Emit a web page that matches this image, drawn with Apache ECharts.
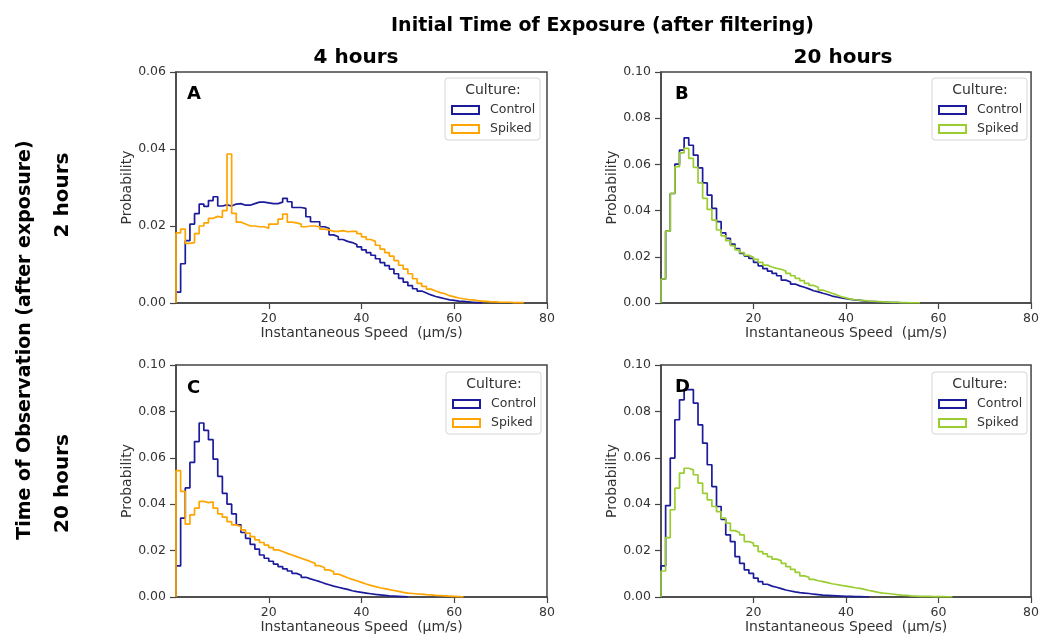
<!DOCTYPE html>
<html>
<head>
<meta charset="utf-8">
<script src="https://cdn.jsdelivr.net/npm/echarts@6/dist/echarts.min.js"></script>
<style>html,body{margin:0;padding:0;background:#fff}#c{width:1042px;height:636px}</style>
</head>
<body>
<div id="c"></div>
<script>
// ---- data: probability per 1 µm/s bin, starting at 0 ----
const xTicks = [20, 40, 60, 80];
const yTicksA = ['0.00', '0.02', '0.04', '0.06'];
const yTicksBCD = ['0.00', '0.02', '0.04', '0.06', '0.08', '0.10'];

const controlA = [0.0028, 0.0102, 0.0162, 0.0205, 0.0232, 0.0257, 0.0251, 0.0266, 0.0276, 0.0252,
  0.0255, 0.0252, 0.0257, 0.0258, 0.0254, 0.0254, 0.0258, 0.0262, 0.0262, 0.0260,
  0.0258, 0.0258, 0.0262, 0.0272, 0.0263, 0.0248, 0.0248, 0.0246, 0.0224, 0.0211,
  0.0211, 0.0198, 0.0194, 0.0177, 0.0172, 0.0165, 0.0160, 0.0157, 0.0152, 0.0146,
  0.0138, 0.0131, 0.0124, 0.0115, 0.0105, 0.0097, 0.0088, 0.0076, 0.0064, 0.0054,
  0.0045, 0.0037, 0.0031, 0.0026, 0.0021, 0.0017, 0.0014, 0.0011, 0.0008, 0.0007,
  0.0005, 0.0004, 0.0003, 0.0002, 0.0001, 0.0001];
const spikedA = [0.0182, 0.0192, 0.0155, 0.0157, 0.0180, 0.0200, 0.0208, 0.0220, 0.0225, 0.0222,
  0.0240, 0.0387, 0.0233, 0.0210, 0.0205, 0.0200, 0.0200, 0.0198, 0.0198, 0.0194,
  0.0205, 0.0205, 0.0218, 0.0231, 0.0210, 0.0208, 0.0205, 0.0198, 0.0200, 0.0200,
  0.0198, 0.0192, 0.0190, 0.0186, 0.0186, 0.0188, 0.0185, 0.0186, 0.0186, 0.0180,
  0.0172, 0.0165, 0.0160, 0.0150, 0.0140, 0.0131, 0.0122, 0.0110, 0.0098, 0.0088,
  0.0076, 0.0063, 0.0051, 0.0043, 0.0036, 0.0031, 0.0027, 0.0024, 0.0019, 0.0016,
  0.0013, 0.0011, 0.0009, 0.0008, 0.0006, 0.0005, 0.0004, 0.0003, 0.0003, 0.0002,
  0.0002, 0.0002, 0.0001, 0.0001, 0.0001];

const controlB = [0.0104, 0.0311, 0.0474, 0.0601, 0.0662, 0.0715, 0.0683, 0.0640, 0.0585, 0.0520,
  0.0467, 0.0410, 0.0352, 0.0304, 0.0280, 0.0255, 0.0236, 0.0215, 0.0203, 0.0193,
  0.0176, 0.0161, 0.0149, 0.0138, 0.0128, 0.0118, 0.0099, 0.0091, 0.0082, 0.0074,
  0.0068, 0.0061, 0.0053, 0.0048, 0.0042, 0.0037, 0.0030, 0.0026, 0.0022, 0.0019,
  0.0016, 0.0013, 0.0011, 0.0009, 0.0007, 0.0006, 0.0005, 0.0004, 0.0003, 0.0002,
  0.0002, 0.0001, 0.0001];
const spikedB = [0.0104, 0.0311, 0.0474, 0.0590, 0.0650, 0.0669, 0.0626, 0.0587, 0.0520, 0.0453,
  0.0405, 0.0359, 0.0316, 0.0291, 0.0270, 0.0248, 0.0230, 0.0218, 0.0206, 0.0198,
  0.0189, 0.0176, 0.0164, 0.0156, 0.0150, 0.0146, 0.0138, 0.0128, 0.0118, 0.0107,
  0.0097, 0.0085, 0.0076, 0.0068, 0.0056, 0.0049, 0.0042, 0.0035, 0.0027, 0.0022,
  0.0017, 0.0014, 0.0012, 0.0010, 0.0008, 0.0007, 0.0006, 0.0005, 0.0004, 0.0003,
  0.0003, 0.0002, 0.0002, 0.0001, 0.0001, 0.0001];

const controlC = [0.0134, 0.0340, 0.0470, 0.0580, 0.0670, 0.0750, 0.0718, 0.0678, 0.0594, 0.0520,
  0.0447, 0.0400, 0.0358, 0.0311, 0.0278, 0.0253, 0.0227, 0.0206, 0.0181, 0.0167,
  0.0154, 0.0142, 0.0131, 0.0121, 0.0112, 0.0102, 0.0094, 0.0085, 0.0078, 0.0072,
  0.0066, 0.0059, 0.0053, 0.0047, 0.0042, 0.0037, 0.0033, 0.0027, 0.0023, 0.0020,
  0.0017, 0.0014, 0.0011, 0.0009, 0.0007, 0.0005, 0.0004, 0.0003, 0.0002, 0.0001];
const spikedC = [0.0545, 0.0455, 0.0314, 0.0354, 0.0383, 0.0412, 0.0407, 0.0410, 0.0383, 0.0358,
  0.0344, 0.0325, 0.0311, 0.0304, 0.0289, 0.0275, 0.0260, 0.0246, 0.0235, 0.0224,
  0.0213, 0.0203, 0.0196, 0.0188, 0.0181, 0.0174, 0.0167, 0.0160, 0.0153, 0.0145,
  0.0135, 0.0127, 0.0117, 0.0109, 0.0099, 0.0091, 0.0083, 0.0076, 0.0070, 0.0063,
  0.0056, 0.0050, 0.0045, 0.0040, 0.0036, 0.0032, 0.0028, 0.0024, 0.0020, 0.0017,
  0.0015, 0.0013, 0.0012, 0.0010, 0.0009, 0.0007, 0.0006, 0.0005, 0.0004, 0.0003,
  0.0002, 0.0001];

const controlD = [0.0134, 0.0394, 0.0599, 0.0764, 0.0850, 0.0894, 0.0894, 0.0836, 0.0742, 0.0663,
  0.0570, 0.0476, 0.0390, 0.0335, 0.0268, 0.0239, 0.0174, 0.0145, 0.0117, 0.0102,
  0.0081, 0.0066, 0.0055, 0.0047, 0.0042, 0.0036, 0.0030, 0.0026, 0.0022, 0.0019,
  0.0017, 0.0015, 0.0012, 0.0010, 0.0008, 0.0007, 0.0006, 0.0005, 0.0004, 0.0003,
  0.0003, 0.0002, 0.0002, 0.0001, 0.0001];
const spikedD = [0.0112, 0.0256, 0.0376, 0.0469, 0.0534, 0.0555, 0.0548, 0.0527, 0.0491, 0.0447,
  0.0419, 0.0390, 0.0368, 0.0340, 0.0318, 0.0286, 0.0278, 0.0268, 0.0239, 0.0232,
  0.0220, 0.0196, 0.0186, 0.0174, 0.0163, 0.0157, 0.0145, 0.0131, 0.0119, 0.0106,
  0.0091, 0.0085, 0.0076, 0.0070, 0.0066, 0.0062, 0.0057, 0.0054, 0.0050, 0.0047,
  0.0044, 0.0040, 0.0037, 0.0033, 0.0028, 0.0024, 0.0020, 0.0017, 0.0015, 0.0013,
  0.0010, 0.0008, 0.0007, 0.0005, 0.0004, 0.0003, 0.0003, 0.0003, 0.0002, 0.0002,
  0.0002, 0.0001, 0.0001];

// ---- styling / layout ----
const FONT = '"DejaVu Sans", sans-serif';
const CTRL = '#1b1b9b';
const ORANGE = '#ffa500';
const GREEN = '#9acd32';
const AXIS = '#444';

const panels = [
  {grid: {left: 176, top: 72, width: 371, height: 231}, yMax: 0.06, ctrl: controlA, spk: spikedA, spkColor: ORANGE,
   letter: 'A', lx: 187, ly: 94, box: {x: 445, y: 78}},
  {grid: {left: 661, top: 72, width: 372, height: 231}, yMax: 0.10, ctrl: controlB, spk: spikedB, spkColor: GREEN,
   letter: 'B', lx: 675, ly: 94, box: {x: 932, y: 78}},
  {grid: {left: 176, top: 365, width: 371, height: 232}, yMax: 0.10, ctrl: controlC, spk: spikedC, spkColor: ORANGE,
   letter: 'C', lx: 187, ly: 388, box: {x: 446, y: 372}},
  {grid: {left: 661, top: 365, width: 372, height: 232}, yMax: 0.10, ctrl: controlD, spk: spikedD, spkColor: GREEN,
   letter: 'D', lx: 675, ly: 387.5, box: {x: 932, y: 372}}
];

function stepPoints(vals) {
  const pts = [[0, 0]];
  vals.forEach((v, i) => pts.push([i, v]));
  pts.push([vals.length, 0]);
  return pts;
}

const grids = [], xAxes = [], yAxes = [], series = [], legends = [], graphics = [];

panels.forEach((p, k) => {
  grids.push(Object.assign({show: true, borderColor: AXIS, borderWidth: 1.5, backgroundColor: '#fff'}, p.grid));
  xAxes.push({
    gridIndex: k, type: 'value', min: 0, max: 80, interval: 20,
    axisLine: {show: true, onZero: false, lineStyle: {color: AXIS, width: 1.5}},
    axisTick: {show: true, length: 6, customValues: xTicks, lineStyle: {color: AXIS, width: 1.2}},
    axisLabel: {customValues: xTicks, color: '#333', fontSize: 12.5, fontFamily: FONT, margin: 9},
    splitLine: {show: false},
    name: 'Instantaneous Speed  (µm/s)', nameLocation: 'middle', nameGap: 23,
    nameTextStyle: {fontSize: 14, color: '#333', fontFamily: FONT}
  });
  const yLabels = p.yMax > 0.07 ? yTicksBCD : yTicksA;
  yAxes.push({
    gridIndex: k, type: 'value', min: 0, max: p.yMax, interval: 0.02,
    axisLine: {show: true, onZero: false, lineStyle: {color: AXIS, width: 1.5}},
    axisTick: {show: true, length: 6, lineStyle: {color: AXIS, width: 1.2}},
    axisLabel: {color: '#333', fontSize: 12.5, fontFamily: FONT, margin: 10,
      formatter: v => yLabels[Math.round(v / 0.02)]},
    splitLine: {show: false},
    name: 'Probability', nameLocation: 'middle', nameGap: 41,
    nameTextStyle: {fontSize: 14, color: '#333', fontFamily: FONT}
  });
  series.push({
    name: 'Control', type: 'line', step: 'end', xAxisIndex: k, yAxisIndex: k,
    data: stepPoints(p.ctrl), symbol: 'none', clip: false, z: 2,
    lineStyle: {color: CTRL, width: 1.7}, itemStyle: {color: CTRL}
  });
  series.push({
    name: 'Spiked', type: 'line', step: 'end', xAxisIndex: k, yAxisIndex: k,
    data: stepPoints(p.spk), symbol: 'none', clip: false, z: 3,
    lineStyle: {color: p.spkColor, width: 1.7}, itemStyle: {color: p.spkColor}
  });
  // legend frame + title
  graphics.push({type: 'rect', z: 20, shape: {x: p.box.x, y: p.box.y, width: 95, height: 62, r: 3},
    style: {fill: 'rgba(255,255,255,0.85)', stroke: '#d6d6d6', lineWidth: 1}});
  graphics.push({type: 'text', z: 21, x: p.box.x + 48, y: p.box.y + 12.5,
    style: {text: 'Culture:', fontSize: 14, fontFamily: FONT, fill: '#333', align: 'center', verticalAlign: 'middle'}});
  legends.push({
    left: p.box.x + 6, top: p.box.y + 24.5, orient: 'vertical', icon: 'rect',
    itemWidth: 27, itemHeight: 8, itemGap: 4, selectedMode: false, z: 30, padding: 0,
    textStyle: {fontSize: 12.5, color: '#333', fontFamily: FONT, lineHeight: 15, padding: [0, 0, 0, 6]},
    data: [
      {name: 'Control', itemStyle: {color: '#fff', borderColor: CTRL, borderWidth: 2}},
      {name: 'Spiked', itemStyle: {color: '#fff', borderColor: p.spkColor, borderWidth: 2}}
    ]
  });
  graphics.push({type: 'text', z: 22, x: p.lx, y: p.ly,
    style: {text: p.letter, fontSize: 18, fontWeight: 'bold', fontFamily: FONT, fill: '#000', align: 'left', verticalAlign: 'middle'}});
});

// figure titles
graphics.push({type: 'text', x: 602.5, y: 26.5,
  style: {text: 'Initial Time of Exposure (after filtering)', fontSize: 19, fontWeight: 'bold', fontFamily: FONT, fill: '#000', align: 'center', verticalAlign: 'middle'}});
graphics.push({type: 'text', x: 356, y: 58,
  style: {text: '4 hours', fontSize: 20, fontWeight: 'bold', fontFamily: FONT, fill: '#000', align: 'center', verticalAlign: 'middle'}});
graphics.push({type: 'text', x: 843, y: 58,
  style: {text: '20 hours', fontSize: 20, fontWeight: 'bold', fontFamily: FONT, fill: '#000', align: 'center', verticalAlign: 'middle'}});
graphics.push({type: 'text', x: 25, y: 340, rotation: Math.PI / 2,
  style: {text: 'Time of Observation (after exposure)', fontSize: 19, fontWeight: 'bold', fontFamily: FONT, fill: '#000', align: 'center', verticalAlign: 'middle'}});
graphics.push({type: 'text', x: 63, y: 195, rotation: Math.PI / 2,
  style: {text: '2 hours', fontSize: 20, fontWeight: 'bold', fontFamily: FONT, fill: '#000', align: 'center', verticalAlign: 'middle'}});
graphics.push({type: 'text', x: 63, y: 483.5, rotation: Math.PI / 2,
  style: {text: '20 hours', fontSize: 20, fontWeight: 'bold', fontFamily: FONT, fill: '#000', align: 'center', verticalAlign: 'middle'}});

const chart = echarts.init(document.getElementById('c'), null, {renderer: 'canvas'});
chart.setOption({
  animation: false,
  backgroundColor: '#fff',
  grid: grids,
  xAxis: xAxes,
  yAxis: yAxes,
  legend: legends,
  series: series,
  graphic: graphics
});
</script>
</body>
</html>
